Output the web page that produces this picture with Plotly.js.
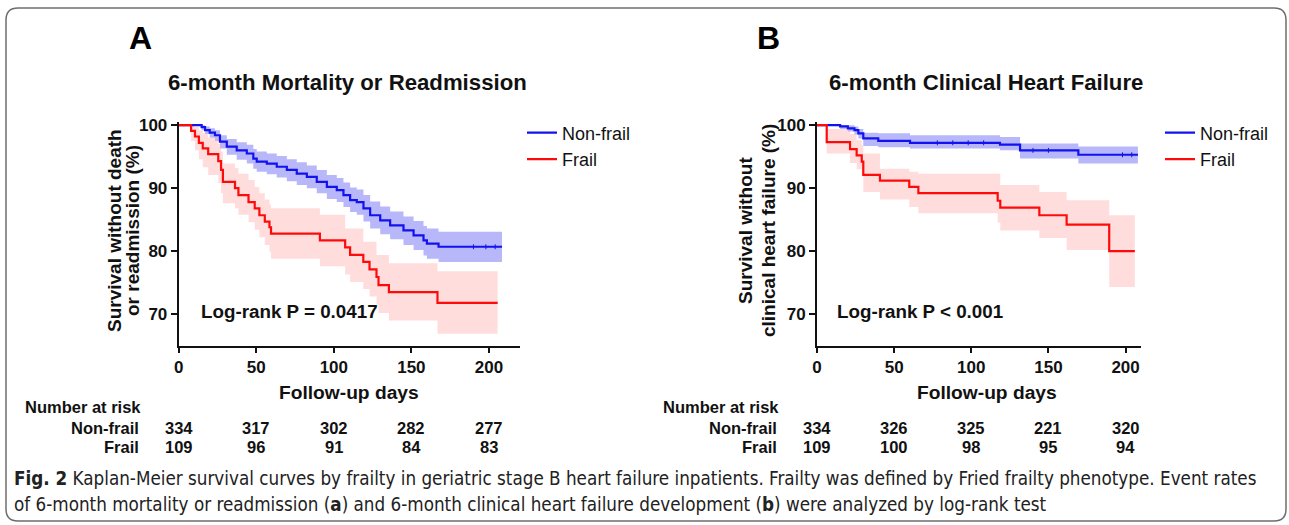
<!DOCTYPE html>
<html>
<head>
<meta charset="utf-8">
<script src="https://cdn.plot.ly/plotly-3.0.1.min.js"></script>
<style>
  html, body { margin: 0; padding: 0; background: #ffffff; }
  #chart { width: 1289px; height: 525px; }
</style>
</head>
<body>
<div id="chart"></div>
<script>
// ---------------- DATA ----------------
// Panel A: 6-month Mortality or Readmission (Kaplan-Meier, % survival)
const A_frail_t  = [0, 8, 10.5, 13, 15.5, 19, 25.5, 27.3, 28.5, 36.3, 38.5, 45, 49, 52, 55.5, 58.5, 59.5, 91, 107.3, 110.5, 119, 123, 127.5, 128.8, 135.5, 166.8, 205.6];
const A_frail_s  = [100, 99.1, 98.2, 97.2, 96.3, 95.4, 94.3, 92.9, 91.0, 90.0, 88.9, 87.8, 86.8, 85.7, 84.7, 83.8, 82.8, 81.7, 80.6, 79.4, 78.3, 77.1, 75.9, 74.6, 73.5, 71.8, 71.8];
const A_frail_lo = [100, 97.5, 96.0, 94.6, 93.3, 92.1, 90.8, 89.2, 87.6, 86.8, 85.8, 84.6, 83.4, 82.2, 81.0, 79.9, 78.8, 77.6, 76.3, 75.1, 74.0, 72.8, 71.5, 70.2, 69.0, 66.9, 66.9];
const A_frail_up = [100, 100, 99.7, 99.2, 98.7, 98.0, 97.0, 95.8, 93.9, 93.2, 92.3, 91.3, 90.2, 89.2, 88.2, 87.4, 86.8, 85.8, 83.6, 83.6, 81.5, 81.5, 79.4, 79.4, 78.1, 76.8, 76.8];

const A_non_t  = [0, 14.8, 17, 20, 23.4, 26.6, 31, 37.4, 43.9, 48.1, 50.3, 56.8, 63.2, 69.7, 76.1, 82.6, 89, 95.5, 101.9, 106.2, 110.5, 114.8, 119.1, 123.4, 129.9, 136.3, 144.9, 151.4, 157.8, 160, 167.5, 208.4];
const A_non_s  = [100, 99.7, 99.2, 98.8, 98.4, 97.4, 96.6, 96.0, 95.5, 94.7, 94.2, 93.9, 93.4, 92.9, 92.3, 91.8, 91.0, 90.2, 89.7, 88.9, 88.1, 87.8, 86.8, 85.7, 84.9, 84.1, 83.3, 82.5, 81.7, 81.2, 80.7, 80.7];
const A_non_lo = [100, 99.2, 98.6, 98.0, 97.5, 96.3, 95.3, 94.5, 93.9, 93.1, 92.6, 92.2, 91.7, 91.1, 90.5, 90.0, 89.2, 88.3, 87.8, 87.0, 86.2, 85.8, 84.7, 83.6, 82.7, 81.9, 81.0, 80.2, 79.3, 78.8, 78.3, 78.3];
const A_non_up = [100, 100, 99.8, 99.5, 99.2, 98.4, 97.8, 97.3, 96.9, 96.2, 95.8, 95.5, 95.1, 94.6, 94.1, 93.6, 92.9, 92.1, 91.6, 90.9, 90.1, 89.8, 88.9, 87.9, 87.1, 86.3, 85.5, 84.8, 84.0, 83.6, 83.1, 83.1];
const A_non_censor = [190, 198, 204];

// Panel B: 6-month Clinical Heart Failure
const B_frail_t  = [0, 6.3, 21.4, 25.7, 29, 30, 40.8, 59.8, 65.7, 117.1, 118.8, 144.1, 161.8, 189.4, 206];
const B_frail_s  = [100, 97.3, 96.2, 95.2, 94.2, 92.1, 91.2, 90.2, 89.2, 88.0, 86.9, 85.7, 84.2, 80.0, 80.0];
const B_frail_lo = [100, 95.5, 94.0, 93.0, 92.0, 89.4, 88.2, 87.0, 86.0, 84.5, 83.3, 82.1, 80.2, 74.3, 74.3];
const B_frail_up = [100, 99.4, 98.6, 97.6, 96.8, 95.5, 93.1, 92.6, 92.3, 92.3, 90.5, 89.4, 88.1, 85.7, 85.7];

const B_non_t  = [0, 15, 20, 24.3, 26.8, 30, 39.7, 60.3, 118.6, 131.6, 169.4, 208];
const B_non_s  = [100, 99.8, 99.5, 99.2, 98.7, 97.9, 97.5, 97.2, 96.9, 96.0, 95.3, 95.3];
const B_non_lo = [100, 99.4, 99.0, 98.5, 97.9, 96.7, 96.5, 96.3, 96.0, 94.7, 93.9, 93.9];
const B_non_up = [100, 100, 100, 99.8, 99.4, 98.8, 98.7, 98.4, 98.1, 97.1, 96.6, 96.6];
const B_non_censor = [78, 88, 98, 108, 140, 150, 198, 204];

// Number at risk
const riskTimes = [0, 50, 100, 150, 200];
const A_risk_non   = [334, 317, 302, 282, 277];
const A_risk_frail = [109, 96, 91, 84, 83];
const B_risk_non   = [334, 326, 325, 221, 320];
const B_risk_frail = [109, 100, 98, 95, 94];

const groupNames = ["Non-frail", "Frail"];
const panelTitles = ["6-month Mortality or Readmission", "6-month Clinical Heart Failure"];
const panelLetters = ["A", "B"];
const yTitlesA = ["Survival without death", "or readmission (%)"];
const yTitlesB = ["Survival without", "clinical heart failure (%)"];
const pTexts = ["Log-rank P = 0.0417", "Log-rank P < 0.001"];
const xTitle = "Follow-up days";

// ---------------- LAYOUT HELPERS ----------------
const W = 1289, H = 525;
const px = v => v / W;
const py = v => 1 - v / H;

const BLUE = '#1212ee', RED = '#ff0a0a';
const BLUE_BAND = 'rgba(105,105,245,0.48)';
const RED_BAND = 'rgba(255,165,165,0.38)';
const SANS = 'Liberation Sans, Arial, sans-serif';
const NARROW = 'Liberation Sans Narrow, DejaVu Sans Condensed, Arial Narrow, sans-serif';

function band(t, lo, up, color, xa, ya) {
  return [
    {x: t, y: lo, xaxis: xa, yaxis: ya, type: 'scatter', mode: 'lines',
     line: {shape: 'hv', width: 0, color: color}, showlegend: false, hoverinfo: 'skip'},
    {x: t, y: up, xaxis: xa, yaxis: ya, type: 'scatter', mode: 'lines', fill: 'tonexty',
     fillcolor: color, line: {shape: 'hv', width: 0, color: color}, showlegend: false, hoverinfo: 'skip'}
  ];
}
function curve(t, s, color, name, xa, ya, leg) {
  return {x: t, y: s, xaxis: xa, yaxis: ya, type: 'scatter', mode: 'lines', name: name,
          legend: leg, line: {shape: 'hv', width: 2.2, color: color}};
}
// step-function lookup so censor ticks sit on the curve
function stepAt(t, s, v) {
  let r = s[0];
  for (let i = 0; i < t.length; i++) { if (t[i] <= v) r = s[i]; }
  return r;
}
function censor(ct, t, s, color, xa, ya) {
  return {x: ct, y: ct.map(v => stepAt(t, s, v)), xaxis: xa, yaxis: ya, type: 'scatter', mode: 'markers',
          marker: {symbol: 'line-ns', size: 3.5, line: {width: 1, color: color}},
          showlegend: false, hoverinfo: 'skip'};
}

const data = [
  ...band(A_non_t, A_non_lo, A_non_up, BLUE_BAND, 'x', 'y'),
  ...band(A_frail_t, A_frail_lo, A_frail_up, RED_BAND, 'x', 'y'),
  ...band(B_non_t, B_non_lo, B_non_up, BLUE_BAND, 'x2', 'y2'),
  ...band(B_frail_t, B_frail_lo, B_frail_up, RED_BAND, 'x2', 'y2'),
  curve(A_non_t, A_non_s, BLUE, groupNames[0], 'x', 'y', 'legend'),
  curve(A_frail_t, A_frail_s, RED, groupNames[1], 'x', 'y', 'legend'),
  curve(B_non_t, B_non_s, BLUE, groupNames[0], 'x2', 'y2', 'legend2'),
  curve(B_frail_t, B_frail_s, RED, groupNames[1], 'x2', 'y2', 'legend2'),
  censor(A_non_censor, A_non_t, A_non_s, BLUE, 'x', 'y'),
  censor(B_non_censor, B_non_t, B_non_s, BLUE, 'x2', 'y2')
];

const tickFont = {family: SANS, size: 17, color: '#111', weight: 'bold'};
const axisCommon = {
  showline: true, linecolor: '#111', linewidth: 2, ticks: 'outside', tickcolor: '#111',
  tickwidth: 2, showgrid: false, zeroline: false, tickfont: tickFont, fixedrange: true
};
const yDomain = [py(345.7), py(122)];

const annotations = [];
function ann(o) { annotations.push(Object.assign({showarrow: false, xref: 'paper', yref: 'paper'}, o)); }

const panels = [
  {xa: 'x', letterX: 140, titleX: 347, yt: yTitlesA, ytX: [115, 133], pX: 289, xTitleX: 349,
   lab: {left: 23, right: 141}, rn: A_risk_non, rf: A_risk_frail},
  {xa: 'x2', letterX: 768, titleX: 986, yt: yTitlesB, ytX: [746, 769], pX: 920, xTitleX: 987,
   lab: {left: 661, right: 779}, rn: B_risk_non, rf: B_risk_frail}
];

panels.forEach((p, i) => {
  ann({x: px(p.letterX), y: py(38), text: '<b>' + panelLetters[i] + '</b>', xanchor: 'center', yanchor: 'middle',
       font: {family: SANS, size: 32, color: '#000'}});
  ann({x: px(p.titleX), y: py(83), text: '<b>' + panelTitles[i] + '</b>', xanchor: 'center', yanchor: 'middle',
       font: {family: SANS, size: 22.2, color: '#111'}});
  p.yt.forEach((t, k) => {
    ann({x: px(p.ytX[k]), y: py(231), text: '<b>' + t + '</b>', textangle: -90, xanchor: 'center', yanchor: 'middle',
         font: {family: SANS, size: 19, color: '#111'}});
  });
  ann({x: px(p.pX), y: py(311), text: '<b>' + pTexts[i] + '</b>', xanchor: 'center', yanchor: 'middle',
       font: {family: SANS, size: 18.8, color: '#111'}});
  ann({x: px(p.xTitleX), y: py(392), text: '<b>' + xTitle + '</b>', xanchor: 'center', yanchor: 'middle',
       font: {family: SANS, size: 19.2, color: '#111'}});
  const tf = {family: SANS, size: 16.5, color: '#111'};
  ann({x: px(p.lab.left), y: py(407), text: '<b>Number at risk</b>', xanchor: 'left', yanchor: 'middle', font: tf});
  ann({x: px(p.lab.right), y: py(428), text: '<b>' + groupNames[0] + '</b>', xanchor: 'right', yanchor: 'middle', font: tf});
  ann({x: px(p.lab.right), y: py(447), text: '<b>' + groupNames[1] + '</b>', xanchor: 'right', yanchor: 'middle', font: tf});
  riskTimes.forEach((t, k) => {
    ann({xref: p.xa, x: t, y: py(428), text: '<b>' + p.rn[k] + '</b>', xanchor: 'center', yanchor: 'middle', font: tf});
    ann({xref: p.xa, x: t, y: py(447), text: '<b>' + p.rf[k] + '</b>', xanchor: 'center', yanchor: 'middle', font: tf});
  });
});

// Caption
const capFont = {family: NARROW, size: 18.7, color: '#222'};
ann({x: px(12), y: py(478), xanchor: 'left', yanchor: 'middle', align: 'left', font: capFont,
     text: '<b>Fig. 2</b> Kaplan-Meier survival curves by frailty in geriatric stage B heart failure inpatients. Frailty was defined by Fried frailty phenotype. Event rates'});
ann({x: px(12), y: py(504), xanchor: 'left', yanchor: 'middle', align: 'left', font: capFont,
     text: 'of 6-month mortality or readmission (<b>a</b>) and 6-month clinical heart failure development (<b>b</b>) were analyzed by log-rank test'});

// Rounded frame
function roundedRect(x0, y0, x1, y1, r) {
  const P = (x, y) => px(x) + ',' + py(y);
  return 'M' + P(x0 + r, y0) + ' L' + P(x1 - r, y0) + ' Q' + P(x1, y0) + ' ' + P(x1, y0 + r) +
         ' L' + P(x1, y1 - r) + ' Q' + P(x1, y1) + ' ' + P(x1 - r, y1) +
         ' L' + P(x0 + r, y1) + ' Q' + P(x0, y1) + ' ' + P(x0, y1 - r) +
         ' L' + P(x0, y0 + r) + ' Q' + P(x0, y0) + ' ' + P(x0 + r, y0) + ' Z';
}

const legendCommon = {font: {family: SANS, size: 18, color: '#111'}, bgcolor: 'rgba(0,0,0,0)',
  xanchor: 'left', yanchor: 'top', traceorder: 'normal', itemwidth: 30, tracegroupgap: 0};

const layout = {
  width: W, height: H,
  margin: {l: 0, r: 0, t: 0, b: 0},
  paper_bgcolor: '#ffffff', plot_bgcolor: 'rgba(0,0,0,0)',
  showlegend: true,
  xaxis:  Object.assign({}, axisCommon, {domain: [px(178.7), px(520)], range: [0, 220], anchor: 'y',
          tickvals: riskTimes, ticklen: 5}),
  yaxis:  Object.assign({}, axisCommon, {domain: yDomain, range: [65, 100.5], anchor: 'x',
          tickvals: [70, 80, 90, 100], ticklen: 6}),
  xaxis2: Object.assign({}, axisCommon, {domain: [px(817), px(1141)], range: [0, 210], anchor: 'y2',
          tickvals: riskTimes, ticklen: 5}),
  yaxis2: Object.assign({}, axisCommon, {domain: yDomain, range: [65, 100.5], anchor: 'x2',
          tickvals: [70, 80, 90, 100], ticklen: 6}),
  legend:  Object.assign({}, legendCommon, {x: px(522), y: py(114.5)}),
  legend2: Object.assign({}, legendCommon, {x: px(1160), y: py(114.5)}),
  annotations: annotations,
  shapes: [{type: 'path', xref: 'paper', yref: 'paper', path: roundedRect(6, 8, 1286, 521, 12),
            line: {color: '#6e6e6e', width: 1.5}, fillcolor: 'rgba(0,0,0,0)'}]
};

Plotly.newPlot('chart', data, layout, {staticPlot: true, displayModeBar: false});
</script>
</body>
</html>
